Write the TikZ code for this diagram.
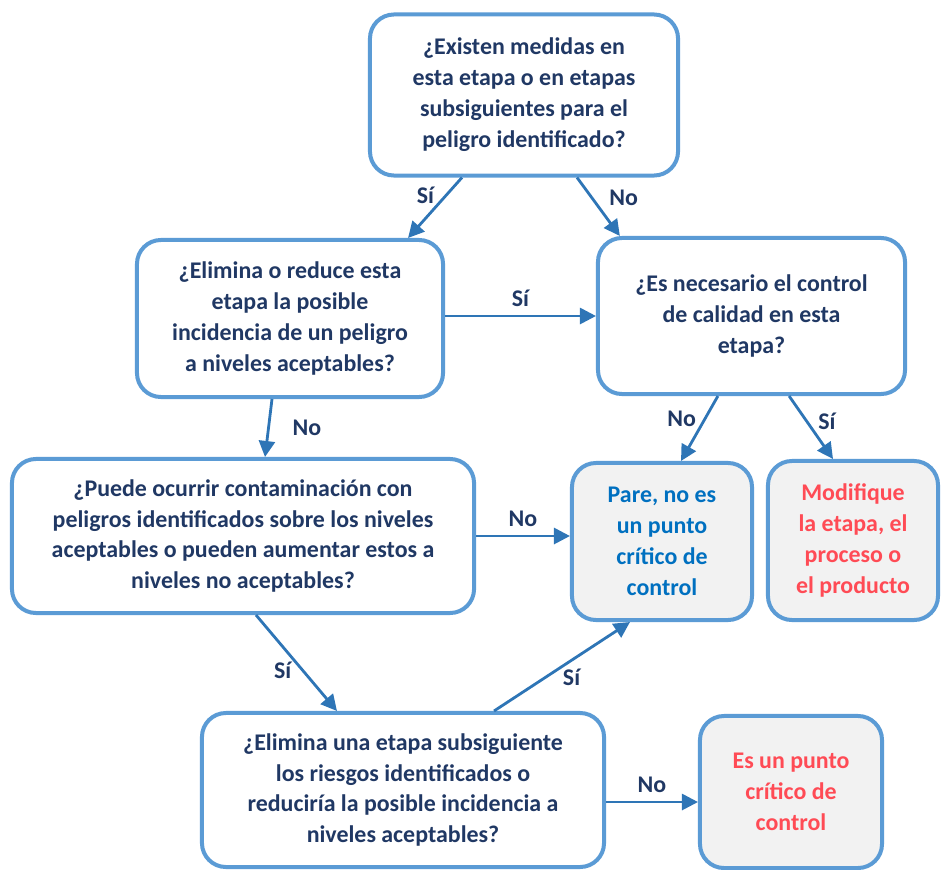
\documentclass[tikz,border=0pt]{standalone}
\usepackage{fontspec}
\setmainfont{Carlito}
\usetikzlibrary{arrows.meta}
\definecolor{boxline}{HTML}{5B9BD5}
\definecolor{arrline}{HTML}{2E75B6}
\definecolor{navy}{HTML}{203864}
\definecolor{stopblue}{HTML}{0070C0}
\definecolor{stopred}{HTML}{FF4B55}
\definecolor{endfill}{HTML}{F2F2F2}
\begin{document}
\begin{tikzpicture}[x=0.025cm, y=-0.025cm,
    question/.style={draw=boxline, line width=0.1cm, rounded corners=0.6cm, fill=white,
        align=center, text=navy, font=\bfseries\fontsize{17}{22}\selectfont, inner sep=0pt},
    result/.style={question, fill=endfill},
    arr/.style={draw=arrline, line width=2pt, -{Triangle[length=0.4cm, width=0.4cm]}},
    lbl/.style={text=navy, font=\bfseries\fontsize{17}{22}\selectfont}]
    \useasboundingbox (0,0) rectangle (941,869);

    \node[question, minimum width=7.7cm, minimum height=4.025cm] (medidas) at (524,95)
        {¿Existen medidas en\\esta etapa o en etapas\\subsiguientes para el\\peligro identificado?};
    \node[question, minimum width=7.65cm, minimum height=3.925cm] (elimina) at (290,318.5)
        {¿Elimina o reduce esta\\etapa la posible\\incidencia de un peligro\\a niveles aceptables?};
    \node[question, minimum width=7.675cm, minimum height=3.9cm] (calidad) at (751.5,316)
        {¿Es necesario el control\\de calidad en esta\\etapa?};
    \node[question, minimum width=11.55cm, minimum height=3.85cm] (contamina) at (243,536)
        {¿Puede ocurrir contaminación con\\peligros identificados sobre los niveles\\aceptables o pueden aumentar estos a\\niveles no aceptables?};
    \node[result, text=stopblue, minimum width=4.5cm, minimum height=3.925cm] (pare) at (662,541.5)
        {Pare, no es\\un punto\\crítico de\\control};
    \node[result, text=stopred, minimum width=4.25cm, minimum height=3.975cm] (modifique) at (853,540.5)
        {Modifique\\la etapa, el\\proceso o\\el producto};
    \node[question, minimum width=10.05cm, minimum height=3.85cm] (subsig) at (403,790)
        {¿Elimina una etapa subsiguiente\\los riesgos identificados o\\reduciría la posible incidencia a\\niveles aceptables?};
    \node[result, text=stopred, minimum width=4.55cm, minimum height=3.8cm] (pcc) at (791,792)
        {Es un punto\\crítico de\\control};

    \draw[arr] ([xshift=-1.55cm]medidas.south) -- ([xshift=2.95cm]elimina.north)
        node[lbl, pos=0.3, left=4pt] {Sí};
    \draw[arr] ([xshift=1.325cm]medidas.south) -- ([xshift=-3.29cm]calidad.north)
        node[lbl, pos=0.35, right=8pt] {No};
    \draw[arr] (elimina.east |- calidad.west) -- (calidad.west)
        node[lbl, midway, above=2pt] {Sí};
    \draw[arr] ([xshift=-0.45cm]elimina.south) -- ([xshift=0.55cm]contamina.north)
        node[lbl, midway, right=0.45cm] {No};
    \draw[arr] ([xshift=-0.84cm]calidad.south) -- ([xshift=0.475cm]pare.north)
        node[lbl, pos=0.35, left=2pt] {No};
    \draw[arr] ([xshift=0.94cm]calidad.south) -- ([xshift=-0.5cm]modifique.north)
        node[lbl, pos=0.4, right=4pt] {Sí};
    \draw[arr] (contamina.east) -- (pare.west |- contamina.east)
        node[lbl, midway, above=2pt] {No};
    \draw[arr] ([xshift=0.325cm]contamina.south) -- ([xshift=-1.65cm]subsig.north)
        node[lbl, pos=0.58, left=4pt] {Sí};
    \draw[arr] ([xshift=2.275cm]subsig.north) -- ([xshift=-0.8cm]pare.south)
        node[lbl, pos=0.57, below=2pt] {Sí};
    \coordinate (salida) at ([yshift=-0.3cm]subsig.east);
    \draw[arr] (salida) -- (salida -| pcc.west)
        node[lbl, midway, above=2pt] {No};
\end{tikzpicture}
\end{document}
